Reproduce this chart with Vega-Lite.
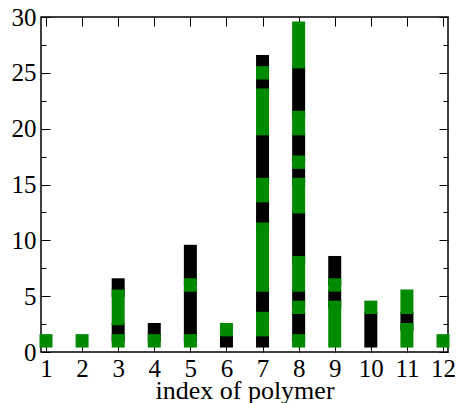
{
  "$schema": "https://vega.github.io/schema/vega-lite/v6.json",
  "width": 407,
  "height": 335,
  "autosize": {"type": "none"},
  "padding": {"left": 41, "top": 17, "right": 14, "bottom": 51},
  "config": {
    "font": "Liberation Serif, Times New Roman, serif",
    "view": {"stroke": "#000", "strokeWidth": 1.5},
    "axis": {"labelFont": "Liberation Serif, Times New Roman, serif", "titleFont": "Liberation Serif, Times New Roman, serif", "labelColor": "#000", "titleColor": "#000", "tickColor": "#000", "domain": false, "grid": false}
  },
  "data": {"values": [
    {"x": 3, "lo": 0.9, "hi": 2.6, "c": "B"},
    {"x": 3, "lo": 4.9, "hi": 6.6, "c": "B"},
    {"x": 4, "lo": 0.9, "hi": 2.6, "c": "B"},
    {"x": 5, "lo": 0.9, "hi": 5.6, "c": "B"},
    {"x": 5, "lo": 5.9, "hi": 9.6, "c": "B"},
    {"x": 6, "lo": 0.4, "hi": 1.6, "c": "B"},
    {"x": 7, "lo": 0.4, "hi": 1.6, "c": "B"},
    {"x": 7, "lo": 2.9, "hi": 5.6, "c": "B"},
    {"x": 7, "lo": 10.9, "hi": 13.6, "c": "B"},
    {"x": 7, "lo": 14.9, "hi": 19.6, "c": "B"},
    {"x": 7, "lo": 22.9, "hi": 24.6, "c": "B"},
    {"x": 7, "lo": 24.9, "hi": 26.6, "c": "B"},
    {"x": 8, "lo": 0.9, "hi": 3.6, "c": "B"},
    {"x": 8, "lo": 3.9, "hi": 5.6, "c": "B"},
    {"x": 8, "lo": 7.9, "hi": 12.6, "c": "B"},
    {"x": 8, "lo": 14.9, "hi": 16.6, "c": "B"},
    {"x": 8, "lo": 16.9, "hi": 19.6, "c": "B"},
    {"x": 8, "lo": 20.9, "hi": 25.6, "c": "B"},
    {"x": 9, "lo": 3.9, "hi": 5.6, "c": "B"},
    {"x": 9, "lo": 5.9, "hi": 8.6, "c": "B"},
    {"x": 10, "lo": 0.4, "hi": 3.6, "c": "B"},
    {"x": 11, "lo": 1.9, "hi": 3.6, "c": "B"},
    {"x": 1, "lo": 0.4, "hi": 1.6, "c": "G"},
    {"x": 2, "lo": 0.4, "hi": 1.6, "c": "G"},
    {"x": 3, "lo": 0.4, "hi": 1.6, "c": "G"},
    {"x": 3, "lo": 2.4, "hi": 5.6, "c": "G"},
    {"x": 4, "lo": 0.4, "hi": 1.6, "c": "G"},
    {"x": 5, "lo": 0.4, "hi": 1.6, "c": "G"},
    {"x": 5, "lo": 5.4, "hi": 6.6, "c": "G"},
    {"x": 6, "lo": 1.4, "hi": 2.6, "c": "G"},
    {"x": 7, "lo": 1.4, "hi": 3.6, "c": "G"},
    {"x": 7, "lo": 5.4, "hi": 11.6, "c": "G"},
    {"x": 7, "lo": 13.4, "hi": 15.6, "c": "G"},
    {"x": 7, "lo": 19.4, "hi": 23.6, "c": "G"},
    {"x": 7, "lo": 24.4, "hi": 25.6, "c": "G"},
    {"x": 8, "lo": 0.4, "hi": 1.6, "c": "G"},
    {"x": 8, "lo": 3.4, "hi": 4.6, "c": "G"},
    {"x": 8, "lo": 5.4, "hi": 8.6, "c": "G"},
    {"x": 8, "lo": 12.4, "hi": 15.6, "c": "G"},
    {"x": 8, "lo": 16.4, "hi": 17.6, "c": "G"},
    {"x": 8, "lo": 19.4, "hi": 21.6, "c": "G"},
    {"x": 8, "lo": 25.4, "hi": 29.6, "c": "G"},
    {"x": 9, "lo": 0.4, "hi": 4.6, "c": "G"},
    {"x": 9, "lo": 5.4, "hi": 6.6, "c": "G"},
    {"x": 10, "lo": 3.4, "hi": 4.6, "c": "G"},
    {"x": 11, "lo": 0.4, "hi": 2.6, "c": "G"},
    {"x": 11, "lo": 3.4, "hi": 5.6, "c": "G"},
    {"x": 12, "lo": 0.4, "hi": 1.6, "c": "G"}
  ]},
  "resolve": {"axis": {"x": "independent", "y": "independent"}},
  "layer": [
    {
      "mark": {"type": "bar", "width": 13},
      "encoding": {
        "x": {"field": "x", "type": "quantitative", "scale": {"domain": [1, 12], "nice": false, "zero": false},
          "axis": {"orient": "bottom", "values": [1,2,3,4,5,6,7,8,9,10,11,12], "tickSize": -9, "labelPadding": 13, "labelFontSize": 25, "title": "index of polymer", "titleFontSize": 26, "titleFontWeight": "normal", "titlePadding": -4}},
        "y": {"field": "lo", "type": "quantitative", "scale": {"domain": [0, 30], "nice": false, "zero": false},
          "axis": {"orient": "left", "values": [0,2.5,5,7.5,10,12.5,15,17.5,20,22.5,25,27.5,30], "labelExpr": "datum.value % 5 === 0 ? datum.label : ''", "tickSize": {"condition": {"test": "datum.value % 5 === 0", "value": -9}, "value": -5}, "labelPadding": 14, "labelFontSize": 25, "title": null}},
        "y2": {"field": "hi"},
        "color": {"field": "c", "type": "nominal", "scale": {"domain": ["G", "B"], "range": ["#008a00", "#000000"]}, "legend": null}
      }
    },
    {
      "mark": {"type": "bar", "width": 13, "opacity": 0},
      "encoding": {
        "x": {"field": "x", "type": "quantitative",
          "axis": {"orient": "top", "values": [1,2,3,4,5,6,7,8,9,10,11,12], "tickSize": -9, "labels": false, "title": null}},
        "y": {"field": "lo", "type": "quantitative",
          "axis": {"orient": "right", "values": [0,2.5,5,7.5,10,12.5,15,17.5,20,22.5,25,27.5,30], "tickSize": {"condition": {"test": "datum.value % 5 === 0", "value": -9}, "value": -5}, "labels": false, "title": null}},
        "y2": {"field": "hi"}
      }
    }
  ]
}
